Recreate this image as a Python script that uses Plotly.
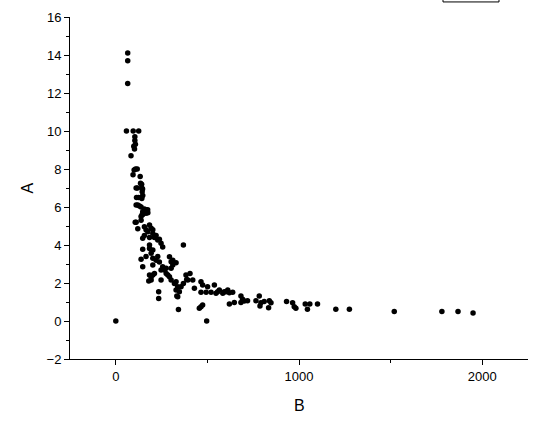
import plotly.graph_objects as go

B = [65, 65, 65, 58, 95, 125, 104, 104, 107, 98, 102, 83, 108, 117, 100, 94, 133,
     135, 141, 118, 146, 111, 142, 144, 113, 140, 147, 124, 142, 120, 111, 129, 138,
     156, 165, 174, 169, 175, 147, 165, 138, 144, 147, 106, 111, 138, 120, 156, 184,
     193, 175, 165, 202, 147, 156, 202, 211, 184, 220, 238, 229, 247, 256, 147, 184,
     202, 184, 369, 138, 193, 202, 220, 238, 165, 229, 293, 302, 311, 311, 329, 147,
     202, 256, 265, 275, 275, 302, 247, 184, 211, 193, 247, 180, 202, 193, 293, 302,
     329, 284, 320, 338, 383, 405, 393, 387, 369, 420, 329, 347, 356, 333, 234, 234,
     338, 342, 429, 465, 474, 501, 538, 465, 493, 520, 547, 565, 584, 602, 620, 638,
     556, 592, 611, 465, 474, 456, 0, 496, 620, 647, 683, 692, 683, 719, 701, 765,
     783, 792, 787, 810, 838, 847, 834, 932, 965, 974, 983, 1034, 1059, 1046, 1101,
     1201, 1275, 1520, 1780, 1868, 1950]
A = [14.1, 13.7, 12.5, 10.0, 10.0, 10.0, 9.7, 9.5, 9.3, 9.2, 9.05, 8.7, 8.0, 8.0, 7.95,
     7.7, 7.6, 7.25, 7.2, 7.0, 6.95, 7.0, 7.0, 6.8, 6.5, 6.5, 6.6, 6.5, 6.45, 6.1, 6.1,
     6.05, 6.0, 5.9, 5.85, 5.85, 5.75, 5.7, 5.75, 5.67, 5.5, 5.6, 5.6, 5.2, 5.2, 5.3,
     4.85, 4.96, 5.05, 4.88, 4.7, 4.8, 4.8, 4.35, 4.5, 4.6, 4.4, 4.4, 4.5, 4.3, 4.26,
     4.09, 3.9, 3.77, 3.82, 3.74, 4.0, 4.0, 3.25, 3.56, 3.3, 3.2, 3.1, 3.4, 3.4, 3.38,
     3.12, 2.95, 3.2, 3.07, 2.86, 2.95, 2.86, 2.68, 2.5, 2.77, 2.77, 2.68, 2.42, 2.5,
     2.16, 2.16, 2.1, 2.42, 2.33, 2.33, 2.16, 2.07, 2.42, 1.98, 1.8, 2.42, 2.5, 2.16,
     2.19, 1.98, 2.16, 1.63, 1.54, 1.8, 1.32, 1.54, 1.19, 1.28, 0.6, 1.72, 2.07, 1.9,
     1.8, 1.9, 1.51, 1.51, 1.51, 1.46, 1.63, 1.46, 1.54, 1.49, 1.51, 1.54, 1.54, 1.63,
     0.75, 0.84, 0.67, 0.0, 0.0, 0.89, 0.98, 1.32, 1.14, 0.98, 1.07, 1.05, 1.07, 1.32,
     0.96, 0.79, 1.02, 1.07, 0.96, 0.7, 1.02, 0.96, 0.75, 0.67, 0.89, 0.89, 0.62, 0.89,
     0.62, 0.62, 0.5, 0.5, 0.5, 0.42]

fig = go.Figure(go.Scatter(
    x=B, y=A, mode="markers",
    marker=dict(color="black", size=5.5, symbol="circle", line=dict(width=0)),
    showlegend=False,
))

fam = "Arial, Liberation Sans, sans-serif"
axis_font = dict(family=fam, size=13, color="black")
title_font = dict(family=fam, size=16, color="black")
fig.update_layout(
    width=547, height=425,
    margin=dict(l=70, r=19, t=17, b=66, autoexpand=False),
    paper_bgcolor="white", plot_bgcolor="white",
    xaxis=dict(
        range=[-250, 2250], tickmode="linear", tick0=0, dtick=1000, automargin=False,
        ticks="outside", ticklen=5, tickwidth=1, tickcolor="black",
        showline=True, linecolor="black", linewidth=1, showgrid=False, zeroline=False,
        minor=dict(ticks="outside", ticklen=3, tickcolor="black", dtick=500, tick0=0, showgrid=False),
        tickfont=axis_font,
    ),
    yaxis=dict(
        range=[-2, 16], tickmode="linear", tick0=0, dtick=2, automargin=False,
        ticks="outside", ticklen=5, tickwidth=1, tickcolor="black",
        showline=True, linecolor="black", linewidth=1, showgrid=False, zeroline=False,
        minor=dict(ticks="outside", ticklen=3, tickcolor="black", dtick=1, tick0=0, showgrid=False),
        tickfont=axis_font,
    ),
    annotations=[
        dict(text="B", xref="paper", yref="paper", x=0.5, y=-0.135, xanchor="center",
             yanchor="middle", showarrow=False, font=title_font),
        dict(text="A", xref="paper", yref="paper", x=-0.093, y=0.5, xanchor="center",
             yanchor="middle", showarrow=False, font=title_font, textangle=-90),
    ],
    shapes=[dict(type="rect", xref="paper", yref="paper",
                 x0=0.8144, x1=0.9367, y0=1.044, y1=1.2,
                 line=dict(color="black", width=1), fillcolor="rgba(0,0,0,0)")],
)

fig.write_html("out.html", config={"displayModeBar": False},
               post_script="document.body.style.margin='0';document.body.style.overflow='hidden';")
